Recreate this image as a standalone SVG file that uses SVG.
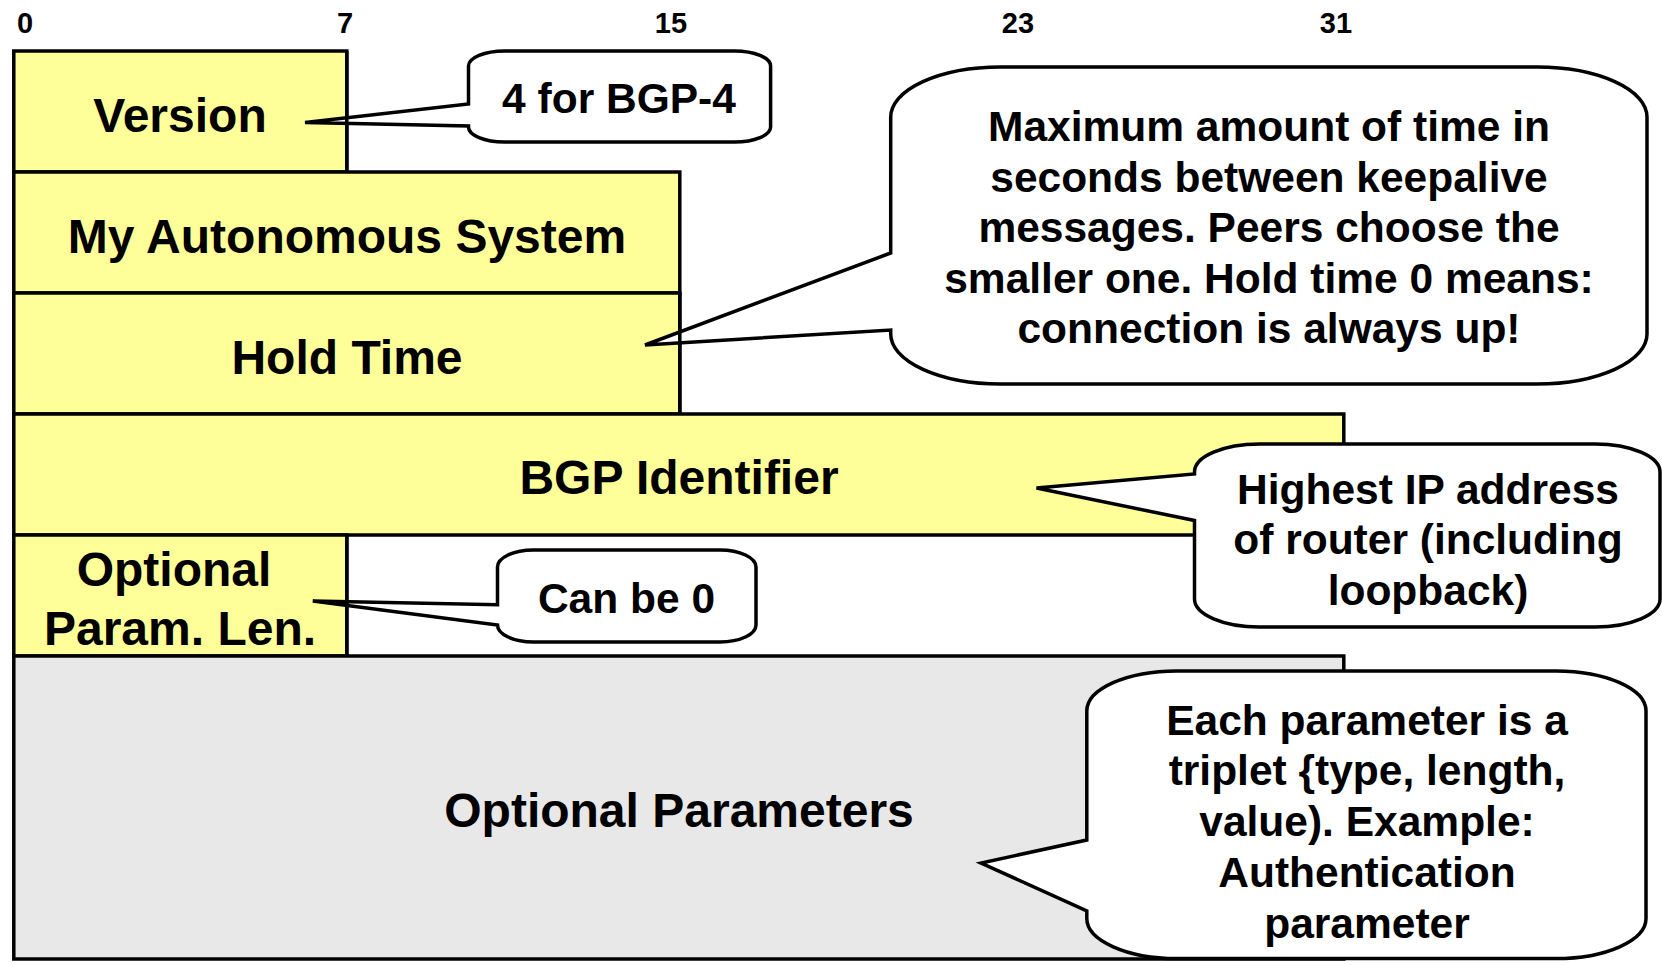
<svg xmlns="http://www.w3.org/2000/svg" width="1662" height="966" viewBox="0 0 1662 966">
<style>
  .field { fill: #ffff99; stroke: #000; stroke-width: 3.5; }
  .gray { fill: #e8e8e8; stroke: #000; stroke-width: 3.5; }
  .callout { fill: #fff; stroke: #000; stroke-width: 3.5; stroke-linejoin: miter; }
  .edge { stroke: #000; stroke-width: 3.5; fill: none; }
  text { font-family: "Liberation Sans", Arial, sans-serif; font-weight: bold; fill: #000; text-anchor: middle; }
  .lbl { font-size: 48px; }
  .ctext { font-size: 42.5px; }
  .bit { font-size: 29px; }
</style>
<rect width="1662" height="966" fill="#fff"/>
<g id="bit-scale">
  <text class="bit" x="25" y="33">0</text>
  <text class="bit" x="345" y="33">7</text>
  <text class="bit" x="671" y="33">15</text>
  <text class="bit" x="1018" y="33">23</text>
  <text class="bit" x="1336" y="33">31</text>
</g>
<g id="version">
  <rect class="field" x="13.8" y="51" width="333" height="121"/>
  <text class="lbl" x="180" y="131.5">Version</text>
</g>
<g id="my-as">
  <rect class="field" x="13.8" y="172" width="666" height="121"/>
  <text class="lbl" x="347" y="252.5">My Autonomous System</text>
</g>
<g id="hold-time">
  <rect class="field" x="13.8" y="293" width="666" height="121"/>
  <text class="lbl" x="347" y="373.5">Hold Time</text>
</g>
<g id="bgp-identifier">
  <rect class="field" x="13.8" y="414" width="1330" height="121"/>
  <text class="lbl" x="679" y="494">BGP Identifier</text>
</g>
<g id="opt-param-len">
  <rect class="field" x="13.8" y="535" width="333" height="121"/>
  <text class="lbl" x="174" y="586">Optional</text>
  <text class="lbl" x="180" y="645">Param. Len.</text>
</g>
<g id="opt-params">
  <rect class="gray" x="13.8" y="656" width="1330" height="303"/>
  <text class="lbl" x="679" y="827">Optional Parameters</text>
</g>
<g id="connectors">
  <g id="callout-version">
    <path class="callout" d="M 504.5 51 H 734.6 A 36 15 0 0 1 770.6 66 V 127 A 36 15 0 0 1 734.6 142 H 504.5 A 36 15 0 0 1 468.5 127 V 126 L 305 122.5 L 468.5 104 V 66 A 36 15 0 0 1 504.5 51 Z"/>
    <text class="ctext" x="619" y="113">4 for BGP-4</text>
  </g>
  <g id="callout-hold">
    <path class="callout" d="M 1000.7 67 H 1537 A 110 50 0 0 1 1647 117 V 334 A 110 50 0 0 1 1537 384 H 1000.7 A 110 50 0 0 1 890.7 334 V 330 L 645 345 L 890.7 253 V 117 A 110 50 0 0 1 1000.7 67 Z"/>
    <text class="ctext" x="1269" y="141">Maximum amount of time in</text>
    <text class="ctext" x="1269" y="191.5">seconds between keepalive</text>
    <text class="ctext" x="1269" y="242">messages. Peers choose the</text>
    <text class="ctext" x="1269" y="292.5">smaller one. Hold time 0 means:</text>
    <text class="ctext" x="1269" y="343">connection is always up!</text>
  </g>
  <g id="callout-bgp">
    <path class="callout" d="M 1259.5 444 H 1595 A 65 28 0 0 1 1660 472 V 599 A 65 28 0 0 1 1595 627 H 1259.5 A 65 28 0 0 1 1194.5 599 V 520.5 L 1036.5 488 L 1194.5 474 V 472 A 65 28 0 0 1 1259.5 444 Z"/>
    <text class="ctext" x="1428" y="503.5">Highest IP address</text>
    <text class="ctext" x="1428" y="554">of router (including</text>
    <text class="ctext" x="1428" y="604.5">loopback)</text>
  </g>
  <g id="callout-len">
    <path class="callout" d="M 533.5 550 H 720 A 36 17 0 0 1 756 567 V 625 A 36 17 0 0 1 720 642 H 533.5 A 36 17 0 0 1 497.5 625 L 312.8 601 L 497.5 604.7 V 567 A 36 17 0 0 1 533.5 550 Z"/>
    <text class="ctext" x="626.5" y="613">Can be 0</text>
  </g>
  <g id="callout-params">
    <path class="callout" d="M 1176.8 671 H 1556 A 90 40 0 0 1 1646 711 V 918.6 A 90 40 0 0 1 1556 958.6 H 1176.8 A 90 40 0 0 1 1086.8 918.6 V 911 L 981 863 L 1086.8 840 V 711 A 90 40 0 0 1 1176.8 671 Z"/>
    <text class="ctext" x="1367" y="734.5">Each parameter is a</text>
    <text class="ctext" x="1367" y="785">triplet {type, length,</text>
    <text class="ctext" x="1367" y="836">value). Example:</text>
    <text class="ctext" x="1367" y="887">Authentication</text>
    <text class="ctext" x="1367" y="937.5">parameter</text>
  </g>
  <path class="edge" d="M 346.8 51 V 172 M 679.8 293 V 414 M 346.8 535 V 656"/>
</g>
</svg>
